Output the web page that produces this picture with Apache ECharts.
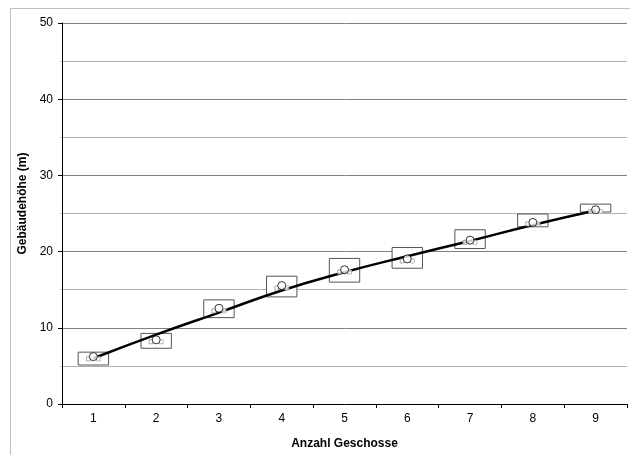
<!DOCTYPE html>
<html><head><meta charset="utf-8">
<script src="https://cdn.jsdelivr.net/npm/echarts@6/dist/echarts.min.js"></script>
<style>html,body{margin:0;padding:0;background:#fff}#c{width:630px;height:455px}</style>
</head><body><div id="c"></div>
<script>
var categories = ['1','2','3','4','5','6','7','8','9'];
var boxLow  = [5.05, 7.25, 11.27, 13.99, 15.93, 17.75, 20.34, 23.19, 25.13];
var boxHigh = [6.87, 9.33, 13.73, 16.84, 19.17, 20.6, 22.93, 25.0, 26.3];
var meanValues = [6.22, 8.42, 12.56, 15.54, 17.62, 19.04, 21.5, 23.83, 25.5];
var medianValues = [6.05, 8.3, 12.35, 15.35, 17.45, 18.9, 21.35, 23.75, 25.4];
var trendValues = [6.0, 9.1, 12.0, 14.9, 17.3, 19.4, 21.4, 23.5, 25.4];
var yTicks = [0, 10, 20, 30, 40, 50];

var font = 'Liberation Sans, Arial, sans-serif';
var chart = echarts.init(document.getElementById('c'));
chart.setOption({
  animation: false,
  graphic: [{type:'rect', shape:{x:10.5,y:8.5,width:700,height:600}, style:{fill:'none',stroke:'#bdbdbd',lineWidth:1}, z:-10}],
  grid: {left: 62, right: 3, top: 23, bottom: 46},
  xAxis: {
    type: 'category', data: categories, boundaryGap: true,
    name: 'Anzahl Geschosse', nameLocation: 'middle', nameGap: 34,
    nameTextStyle: {fontFamily: font, fontSize: 12, fontWeight: 'bold', color: '#000'},
    axisLine: {lineStyle: {color: '#000', width: 1}},
    axisTick: {show: true, length: 4, alignWithLabel: false, lineStyle: {color: '#000'}},
    axisLabel: {fontFamily: font, fontSize: 12, color: '#000', margin: 9},
    splitLine: {show: false}
  },
  yAxis: {
    type: 'value', min: yTicks[0], max: yTicks[yTicks.length-1], interval: 10,
    name: 'Gebäudehöhe (m)', nameLocation: 'middle', nameGap: 28, nameRotate: 90,
    nameTextStyle: {fontFamily: font, fontSize: 12, fontWeight: 'bold', color: '#000', padding: [0, 0, 0, 20]},
    axisLine: {show: true, lineStyle: {color: '#000', width: 1}},
    axisTick: {show: true, length: 4, lineStyle: {color: '#000'}},
    minorTick: {show: true, splitNumber: 2, length: 2, lineStyle: {color: '#bbb'}},
    axisLabel: {fontFamily: font, fontSize: 12, color: '#000', margin: 9},
    splitLine: {show: true, lineStyle: {color: '#808080', width: 1}},
    minorSplitLine: {show: true, lineStyle: {color: '#b0b0b0', width: 1}}
  },
  series: [
    {type: 'bar', stack: 'box', data: boxLow, barWidth: '50%', itemStyle: {color: 'transparent'}, silent: true},
    {type: 'bar', stack: 'box', data: boxHigh.map(function(h,i){return +(h-boxLow[i]).toFixed(2);}), barWidth: '50%',
      itemStyle: {color: '#fff', borderColor: '#555', borderWidth: 1}},
    {type: 'line', data: trendValues, smooth: true, showSymbol: false, lineStyle: {color: '#000', width: 2.5}, z: 5},
    {type: 'scatter', data: medianValues, symbol: 'rect', symbolSize: 4, symbolOffset: [-5, 1],
      itemStyle: {color: '#fff', borderColor: '#999', borderWidth: 1}, z: 6},
    {type: 'scatter', data: medianValues, symbol: 'rect', symbolSize: 4, symbolOffset: [5, 1],
      itemStyle: {color: '#fff', borderColor: '#aaa', borderWidth: 1}, z: 6},
    {type: 'scatter', data: meanValues, symbol: 'circle', symbolSize: 8,
      itemStyle: {color: '#fff', borderColor: '#000', borderWidth: 1}, z: 7}
  ]
});
</script></body></html>
